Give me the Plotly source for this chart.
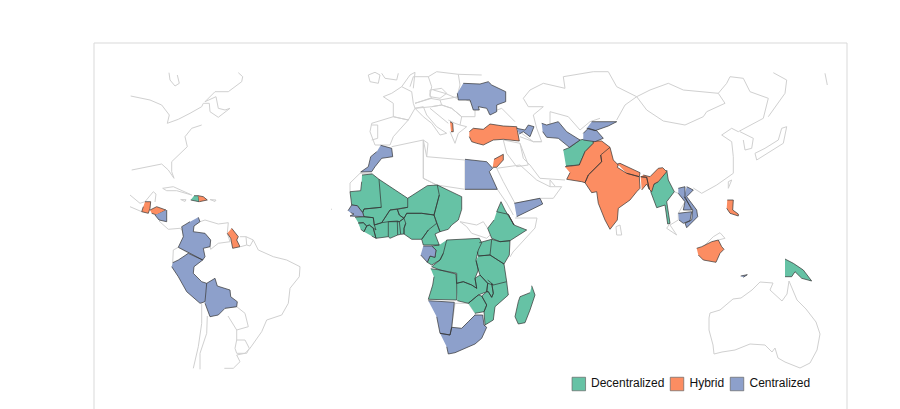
import plotly.graph_objects as go

morocco = [(380.7,145.3),(391.7,148.3),(392.7,156.7),(381.7,158.3),(375,166.7),(371.7,171.7),(360.7,172),(368.3,166.7),(370.7,156.7),(376.7,151.7)]
mauritania = [(362,175),(372.3,174),(379,179.3),(381.3,207.3),(364,209),(362.7,212.7),(357.3,205.7),(351.7,205),(350,191.7),(360.7,190.7),(361.7,181.7)]
mali = [(379,179.3),(407.7,198.3),(407.7,207.3),(397.3,209.3),(390,210),(381.7,222.7),(374.3,225),(373.3,217.7),(364,216.7),(362.7,212.7),(364,209),(381.3,207.3)]
niger = [(407.7,198.3),(427.3,185.7),(437.3,185),(439.3,195),(434,215),(421.7,213.3),(406.7,213.3),(404,218.3),(399.3,215),(397.3,209.3),(407.7,207.3)]
chad = [(437.3,185),(461.7,196.7),(461.7,209.3),(458.3,220),(451.7,225),(448.3,229.3),(440,231.7),(436.7,223.3),(434,215),(439.3,195)]
burkina = [(381.7,222.7),(390,210),(397.3,209.3),(399.3,215),(404,218.3),(399.3,221.7),(388.3,221.7)]
nigeria = [(404,218.3),(406.7,213.3),(421.7,213.3),(434,215),(436.7,223.3),(428.3,230),(421.7,239.3),(411.7,239.3),(404,234),(404,228.3),(405.7,223.3)]
benin = [(399.3,221.7),(404,218.3),(405.7,223.3),(404,228.3),(404,234),(400.7,234.3)]
togo = [(397.3,221),(399.3,221.7),(400.7,234.3),(397.7,235)]
ghana = [(388.3,221.7),(397.3,221),(397.7,235),(390,238.3),(388.3,236.7)]
ivory_coast = [(374.3,225),(381.7,222.7),(388.3,221.7),(388.3,236.7),(376,238.3),(373.3,228.3)]
guinea = [(355,217.3),(364,216.7),(373.3,217.7),(374.3,225),(376,230),(373.3,228.3),(369.3,225),(366.7,226),(363.3,222.7),(358.3,222.7)]
sierra_leone = [(358.3,223.3),(363.3,222.7),(366.7,226),(364,231.7),(360.7,229.3)]
liberia = [(364,231.7),(366.7,226),(369.3,225),(373.3,228.3),(376,238.3),(371.7,236)]
cameroon = [(436.7,223.3),(440,231.7),(435,234),(439.3,245),(423.3,245),(421.7,239.3),(428.3,230)]
gabon = [(423.3,246),(431.7,246),(436,250),(435,257.3),(430,256),(427.3,262.3),(420.7,255)]
congo = [(446.7,240),(443.3,253.3),(440,260),(431.7,265),(427.3,262.3),(430,256),(435,257.3),(436,250),(431.7,246),(439.3,245)]
drc = [(446.7,240),(463.3,239.3),(479.3,238.3),(481.7,242.7),(478.3,250),(476,260),(478.3,270),(475,278.3),(476.7,288.3),(471.7,285),(463.3,281.7),(456.7,283.3),(456.7,273.3),(440,270),(431.7,266.7),(440,260),(443.3,253.3)]
ethiopia = [(496.7,211.7),(508.3,214.3),(514,225),(526.7,230),(510,240.7),(500,241.7),(491.7,238.3),(487.7,228.3),(494,220)]
eritrea = [(496.7,211.7),(501,201.7),(505,210),(514,225),(508.3,214.3)]
kenya = [(491.7,239.3),(500,241.7),(510,240.7),(509.3,255),(504,264),(490,255)]
uganda = [(479.3,242.7),(491.7,239.3),(490,255),(478.3,256),(477.3,251.7)]
tanzania = [(478.3,256),(490,255),(504,264),(506.7,281.7),(493.3,285),(487.7,283.3),(480,275),(478.3,270),(476,260.7)]
zambia = [(456.7,283.3),(463.3,281.7),(471.7,285),(476.7,288.3),(475,278.3),(480,275),(487.7,283.3),(486.7,291.7),(478.3,295),(468.3,303.3),(457.3,300.7)]
malawi = [(487.7,280),(491.7,283.3),(493.3,293.3),(491.7,297.3),(488.3,291.7),(486.7,291.7),(487.7,283.3)]
mozambique = [(506.7,281.7),(508.3,295),(495,306.7),(493.3,320),(485,325),(484,311.7),(486.7,305),(481.7,296),(486.7,291.7),(488.3,291.7),(491.7,297.3),(493.3,293.3),(491.7,283.3),(493.3,285)]
zimbabwe = [(468.3,303.3),(478.3,295),(481.7,296),(486.7,305),(484,311.7),(475,313.3)]
angola = [(430.7,268.7),(440,270),(456,274),(456.7,285),(456.7,300),(428.3,299.3),(432.7,285),(434,276.7)]
madagascar = [(531.7,285.7),(535,295),(530,310),(525,322.7),(518.3,324),(515,316.7),(518.3,301.7),(520,296.7),(530,292.7)]
senegal = [(348,210.7),(351.7,205),(357.3,205.7),(362.7,212.7),(364,216.7),(360,216.7),(355,216.7),(350,216),(354,214),(350.7,212.7)]
swaziland = [(481.7,326),(484,325),(485.7,327.3),(483.3,330),(481,328.7)]
south_africa = [(440,333.3),(450,335),(451.7,327.3),(461.7,328.3),(468.3,321.7),(475,315),(482.7,315),(484,325),(486.7,327.3),(481.7,338.3),(475,344),(465,348.3),(455,352.7),(448.3,354),(446.7,346.7)]
namibia = [(428.3,300.7),(454.3,302.3),(451.7,327.3),(450,335),(440,333.3),(436.7,316.7)]
egypt = [(465,159.3),(486.7,161.7),(492.7,168.3),(489.3,171.7),(497.3,189.3),(465,189.3)]
jordan = [(494,159.3),(503.3,154.3),(503.3,160),(496.7,167.3),(492.7,167.3)]
yemen = [(514.3,203.3),(540,198.3),(542.7,204),(516.7,216.7)]
ukraine = [(463.3,83.3),(480,84),(488.3,81.7),(491.7,85),(505.7,91.7),(505.7,101.7),(496.7,105),(496.7,111.7),(490,115),(486.7,108.3),(478.3,106.7),(479.3,110),(473.3,110),(470,100),(458.3,100),(457.3,93.3)]
turkey = [(469.3,131.7),(473.3,128.3),(483.3,129.3),(490,124),(503.3,126),(516.7,126.7),(519.3,141),(503.3,139.3),(493.3,140),(483.3,145),(476.7,143.3),(471.7,141.7),(469.3,136.7)]
albania = [(450,121.7),(452.7,123.3),(453.3,131.7),(451,131.7)]
azerbaijan = [(516.7,128.3),(525,130),(528.3,125),(534,126.7),(530,136.7),(523.3,131.7),(519.3,134)]
turkmenistan = [(541.7,123.3),(546.7,125),(558.3,121.7),(566.7,131.7),(580,140),(569.3,147.3),(558.3,138.3),(546.7,137.3),(542.7,131.7)]
kyrgyzstan = [(591.7,121.7),(616.7,121.7),(608.3,126),(595,130.7),(586.7,128.3)]
tajikistan = [(583.3,133.3),(588.3,128.3),(596.7,130.7),(603.3,138.3),(595,141.7),(583.3,140)]
afghanistan = [(563.3,150),(570,147.3),(580,140),(593.3,137.3),(593.3,143.3),(585,151.7),(579.3,165),(566,166)]
pakistan = [(565,166.7),(579.3,165),(585,151.7),(593.3,143.3),(593.3,141),(601.7,141),(610,147.3),(600.7,155),(601.7,161.7),(588.3,175),(585,182.7),(581.7,181.7),(566.7,179.3),(570,172.7)]
india = [(610,147.3),(611.7,155),(613.3,160),(618.3,165),(617.3,167.3),(626.7,173.3),(639.3,176.7),(640,188.3),(636.7,191.7),(630,200),(618.3,208.3),(617.3,220),(610,229.3),(605,220),(598.3,203.3),(596.7,191.7),(591.7,192.7),(585,182.7),(588.3,175),(601.7,161.7),(600.7,155)]
india_east = [(643.3,175),(650,176.7),(658.3,168.3),(662.7,167.7),(666.7,171.7),(658.3,181.7),(654,184),(651.7,191.7),(649.3,189.3),(646.7,177.3),(640.7,176.7)]
nepal = [(617.3,164),(620,163.3),(640,172.7),(639.3,176.7),(626.7,173.3)]
bangladesh = [(640.7,176.7),(646.7,177.3),(649.3,189.3),(646.7,184),(641.7,190)]
myanmar = [(666.7,170),(668.3,180),(674.3,191.7),(666.7,201.7),(670,223.3),(667.7,224),(665,205),(656.7,207.7),(650.7,191.7),(654,184),(658.3,181.7)]
vietnam = [(686.7,186.7),(693.3,190),(686.7,196.7),(696.7,210),(697.7,216.7),(686.7,227.7),(685,223.3),(691.7,220),(692.7,210),(684,196.7)]
laos = [(678.3,188.3),(685,186.7),(685,196.7),(691.7,210),(683.3,210),(685,201.7),(678.3,193.3)]
cambodia = [(678.3,213.3),(691.7,211.7),(690,220.7),(683.3,223.3),(679,220)]
philippines = [(727.3,200),(733.3,200),(732.7,210),(738.3,214),(738.3,216),(730,213.3),(726.7,208.3)]
kalimantan = [(696.7,248.3),(701.7,246.7),(711.7,241.7),(718.3,240),(721.7,246.7),(724,249.3),(720,253.3),(716,262.3),(703.3,260),(698.3,255)]
timor = [(740.7,276),(747.3,274.7),(743.3,277.3)]
png = [(785,259),(793.3,263.3),(803.3,270),(811.7,281),(801.7,278.3),(795,271.7),(791.7,276.7),(785,276.7)]
guatemala = [(145,201.7),(150.7,201.7),(150,208.3),(148.3,213.3),(141.7,211.7),(143.3,206.7)]
honduras = [(150,210),(156.7,206.7),(166,210),(156.7,215),(151.7,213.3)]
nicaragua = [(166.7,210),(166.7,221.7),(159,220),(155,215)]
haiti = [(194,195.7),(198.3,195.7),(199,201.7),(190.7,200)]
dominican = [(198.3,195.7),(203.3,196.7),(207.3,200),(199.3,201.7)]
guyana = [(231.7,228.3),(238.3,236.7),(236.7,240),(240,246.7),(232.7,248.3),(230.7,238.3),(227.3,233.3)]
colombia = [(198.3,217.3),(200,221.7),(194,226),(193.3,231.7),(205,233.3),(210.7,240),(210,246.7),(203.3,248.3),(205,256.7),(202.7,260),(190,253.3),(178.3,247.3),(183.3,236.7),(181.7,226.7),(190,221.7)]
peru = [(172.7,262.7),(178.3,260),(188.3,253.3),(202.7,260),(194,266.7),(193.3,273.3),(201.7,281.7),(206.7,283.3),(205,301.7),(200,303.3),(186.7,291.7),(178.3,276.7),(171.7,266.7)]
bolivia = [(206.7,283.3),(215,278.3),(217.3,286),(230,290),(230.7,296.7),(237.3,301.7),(236.7,306.7),(225,308.3),(218.3,315),(210,316.7),(205,303.3)]

# Gray base map lines
canada_bay = [(169,72.7),(170,80),(175,86),(179.3,83.3),(177.3,75)]
canada_us = [(130.7,96),(150,100),(161.7,105),(169.3,115),(167.3,123.3),(178.3,119.3),(190,113.3),(201.7,106.7),(203.3,103.3),(209.3,103.3),(210,111.7),(218.3,117.3),(230,108.3),(225,110),(218.3,108.3),(216,96.7),(205,101.7),(215,91.7),(228.3,91.7),(241.7,81.7),(242.7,76.7),(238.3,72.7)]
us_coast = [(201.7,125),(191.7,128.3),(185,136.7),(187.3,146.7),(171.7,161.7),(171.7,171.7),(174,178.3),(168.3,170),(161.7,164),(148.3,166.7),(131.7,170)]
mexico_gulf = [(130,195),(140,203.3),(145,201.7),(153.3,191.7),(156,194),(155,202)]
mexico_pacific = [(130,206.7),(141.7,211.7)]
panama = [(159,221),(168.3,229.3),(180,228.3),(186,234)]
cuba = [(162.7,188.3),(173.3,186.7),(191.7,195),(176.7,190.7),(166.7,190.7),(162.7,188.3)]
jamaica = [(180.7,199.5),(186,199.7),(185,201.5),(180.7,199.5)]
puerto_rico = [(210,199.5),(216,200),(215,201.5),(210,199.5)]
venezuela = [(200,221.7),(205,220),(218.3,224),(228.3,222.7),(227.3,233.3),(230,241.7),(218.3,243.3),(210.7,249.3),(209,240)]
suriname = [(240,236.7),(246,236.7),(246.7,245),(240.7,246.7)]
guiana = [(246,236.7),(253.3,240),(250,246),(246.7,245)]
brazil_coast = [(253.3,240),(258.3,250),(273.3,256.7),(286.7,260),(300,266.7),(299.3,276.7),(290,288.3),(288.3,303.3),(281.7,315),(266.7,320),(261.7,331.7),(250,348.3),(245,353.3),(236.7,355),(240,361.7),(233.3,368.3),(224.3,368.3)]
uruguay = [(236.7,340),(245,340),(249.3,348.3),(246.7,353.3),(236.7,353.3),(235,348.3),(236.7,340)]
paraguay = [(225,308.3),(236.7,306.7),(245,313.3),(248.3,326.7),(236.7,330),(228,316)]
argentina_east = [(236.7,330),(236.7,340)]
chile_coast = [(201.7,303.3),(201.7,323.3),(198.3,346.7),(193.3,368.3)]
chile_border = [(207.3,316),(206.7,333.3),(200,353.3),(200,369.3)]
ecuador = [(173.3,250),(178.3,247.3),(188.3,253.3),(179.3,262.7),(172.7,262.7),(173.3,250)]

britain = [(368.3,75),(375,72.3),(380,75),(378.3,83.3),(370,81.7),(368.3,75)]
north_sea = [(381.7,73.3),(385,78.3),(396.7,80),(398.3,73.3)]
france = [(383.3,96.7),(391.7,93.3),(401.7,86.7),(411.7,91.7),(413.3,103.3),(415,108.3),(408.3,120),(393.3,116.7),(393.3,103.3),(383.3,96.7)]
lowlands = [(401.7,86.7),(410,75),(415,72.3),(413.3,88.3)]
germany = [(410,86.7),(413.3,76.7),(428.3,76.7),(431.7,86.7),(430,95),(431.7,98.3),(415,103.3)]
poland = [(428.3,76.7),(436.7,71.7),(458.3,74.3),(460,85),(456.7,98.3),(445,93.3),(433.3,90)]
belarus = [(458.3,74.3),(481.7,75)]
czechia = [(430,90),(441.7,88.3),(446.7,93.3),(440,98.3),(430,96.7),(430,90)]
austria = [(415,103.3),(430,98.3),(440,100),(441.7,105),(431.7,106.7),(415,108.3)]
romania = [(440,100),(458.3,96.7),(475,103.3),(475,116.7),(461.7,116.7),(451.7,108.3),(441.7,105)]
italy = [(415,108.3),(423.3,106.7),(426.7,115),(436.7,126.7),(446.7,133.3),(440,135),(431.7,123.3),(423.3,116.7),(415,108.3)]
adriatic = [(430,108.3),(448.3,123.3)]
balkans = [(431.7,106.7),(441.7,105),(451.7,108.3),(461.7,116.7),(460,125),(455,123.3),(448.3,120)]
greece = [(450,131.7),(455,143.3),(458.3,133.3),(466.7,126.7),(460,125)]
spain = [(371.7,123.3),(393.3,116.7),(408.3,120),(393.3,136.7),(390,145),(375,145),(370,131.7),(371.7,123.3)]
portugal = [(371.7,125),(377.7,125),(377.7,138.3),(371.7,140)]
black_sea = [(488.3,113.3),(501.7,108.3),(515,121.7)]
russia_south = [(523.3,98.3),(530,90),(543.3,83.3),(565,88.3),(563.3,76.7),(593.3,71.7),(608.3,71.7),(616.7,86.7),(636.7,96.7)]
caspian = [(523.3,98.3),(528.3,106.7),(543.3,106.7),(533.3,115),(536.7,128.3),(541.7,141.7),(533.3,141.7),(521.7,133.3)]
kazakh_south = [(550,125),(550,111.7),(568.3,116.7),(580,130),(590,121.7),(600,118.3)]
china_west = [(616.7,120),(625,105),(636.7,96.7)]
china_mongolia = [(636.7,96.7),(646.7,110),(663.3,121),(685,125),(703.3,116.7),(706.7,111.7),(725,103.3),(718.3,93.3),(683.3,90),(668.3,83.3),(650,90),(636.7,96.7)]
russia_china = [(718.3,93.3),(726.7,83.3),(730,76.7),(743.3,78.3),(750,91.7),(768.3,98.3),(763.3,118.3),(756.7,121.7),(738.3,131.7),(731.7,128.3),(721.7,135),(731.7,141.7),(733.3,156.7),(733.3,173.3),(716.7,185),(701.7,193.3),(693.3,188)]
korea = [(740,131.7),(753.3,138.3),(751.7,148.3),(745,150),(743.3,140)]
japan = [(755,153.3),(756.7,160),(783.3,143.3),(786.7,126.7),(781.7,128.3),(778.3,140),(765,148.3),(755,153.3)]
kamchatka = [(773.3,72.7),(786.7,80),(785,93.3),(768.3,116.7)]
sakhalin = [(825,73.3),(827.3,85)]
taiwan = [(728.3,188.3),(731.7,180),(728.3,181.7),(728.3,188.3)]
sri_lanka = [(616,226.7),(620,225),(621.7,235),(616.7,235),(616,226.7)]
thailand = [(674.3,191.7),(678.3,193.3),(685,201.7),(678.3,213.3),(678.3,220),(670,225),(676.7,235),(666.7,228.3),(670,223.3)]
borneo_north = [(703.3,246.7),(713.3,236.7),(720,232.7),(725,238.3),(718.3,240)]
australia = [(709,318),(710,313),(720,310),(733,299),(741,298),(752,290),(760,282),(773,283),(770,290),(782,301),(787,294),(789,281),(797,300),(806,309),(816,322),(820,334),(817,350),(810,363),(800,368),(792,365),(785,362),(778,358),(775,348),(772,352),(765,345),(750,344),(735,350),(722,352),(714,354),(713,345),(709,330),(709,318)]

iran = [(520,143.3),(523.3,158.3),(530,165),(540,178.3),(565,180)]
iran_north = [(520,136.7),(533.3,141.7),(541.7,141.7)]
iraq = [(503.3,140),(520,143.3),(528.3,165),(516.7,166.7),(506.7,153.3),(503.3,140)]
saudi = [(496.7,168.3),(520,165),(536.7,180),(550,186.7),(561.7,186.7),(553.3,198.3),(540,198.3),(515,203.3),(503.3,181.7),(496.7,168.3)]
gulf = [(550,186.7),(550,180),(555,186)]
libya = [(423.3,140),(426.7,156.7),(465,160),(465,189.3),(436.7,185),(423.3,178.3),(423.3,140)]
algeria = [(391.7,146.7),(423.3,140),(423.3,178.3),(436.7,185),(407.7,198.3)]
tunisia = [(423.3,140),(428,143.3),(426.7,156.7)]
western_sahara = [(350,191.7),(350,183),(360,173.3),(372,173.3)]
sudan = [(465,189.3),(497.3,189.3),(506.7,203),(513.3,215)]
south_sudan = [(460,221.7),(476.7,225),(483.3,221.7),(487.7,228.3)]
sudan_south = [(460,221.7),(466.7,226.7),(471.7,233.3),(486.7,238.3),(491.7,233.3)]
somalia = [(515,218),(537,218),(535,228),(513,252),(510,257)]
botswana = [(451.7,327.3),(455,303.3),(468.3,303.3),(475,313.3),(475,315),(461.7,328.3)]
cape_verde = [(331,209),(332,209.5)]

decentralized = [mauritania, mali, niger, chad, burkina, nigeria, benin, togo, ghana, ivory_coast, guinea, sierra_leone, liberia, cameroon, congo, drc, ethiopia, eritrea, kenya, uganda, tanzania, zambia, malawi, mozambique, zimbabwe, angola, madagascar, swaziland, afghanistan, myanmar, png, haiti]
hybrid = [pakistan, india, india_east, nepal, bangladesh, turkey, albania, jordan, philippines, kalimantan, guatemala, honduras, dominican, guyana]
centralized = [morocco, senegal, gabon, south_africa, namibia, egypt, yemen, ukraine, azerbaijan, turkmenistan, kyrgyzstan, tajikistan, vietnam, laos, cambodia, timor, nicaragua, colombia, peru, bolivia]
base_lines = [canada_bay, canada_us, us_coast, mexico_gulf, mexico_pacific, panama, cuba, jamaica, puerto_rico, venezuela, suriname, guiana, brazil_coast, uruguay, paraguay, argentina_east, chile_coast, chile_border, ecuador,
              britain, north_sea, france, lowlands, germany, poland, belarus, czechia, austria, romania, italy, adriatic, balkans, greece, spain, portugal, black_sea, russia_south, caspian, kazakh_south, china_west, china_mongolia, russia_china, korea, japan, kamchatka, sakhalin, taiwan, sri_lanka, thailand, borneo_north, australia,
              iran, iran_north, iraq, saudi, gulf, libya, algeria, tunisia, western_sahara, sudan, south_sudan, sudan_south, somalia, botswana, cape_verde]

legend_names = ["Decentralized", "Hybrid", "Centralized"]
legend_colors = ["#66c2a5", "#fc8d62", "#8da0cb"]
legend_x = [578.8, 677, 737]
legend_label_x = [591, 689.5, 749.5]
legend_y = [384, 384, 384]


def join_shapes(shapes):
    xs, ys = [], []
    for shape in shapes:
        xs += [p[0] for p in shape] + [None]
        ys += [p[1] for p in shape] + [None]
    return xs, ys


fig = go.Figure()

x, y = join_shapes(base_lines)
fig.add_trace(go.Scatter(x=x, y=y, mode="lines", line=dict(color="#d0d0d0", width=1), hoverinfo="skip"))

for name, shapes, color in zip(legend_names, [decentralized, hybrid, centralized], legend_colors):
    x, y = join_shapes(shapes)
    fig.add_trace(go.Scatter(
        x=x, y=y, mode="lines", name=name, fill="toself", fillcolor=color,
        line=dict(color="#333333", width=0.7)
    ))

# legend keys drawn as squares with the labels next to them
fig.add_trace(go.Scatter(
    x=legend_x, y=legend_y, mode="markers",
    marker=dict(symbol="square", size=13.5, color=legend_colors, line=dict(color="#666666", width=0.7))
))
fig.add_trace(go.Scatter(
    x=legend_label_x, y=legend_y, mode="text", text=legend_names, textposition="middle right",
    textfont=dict(family="Liberation Sans", size=12, color="#111111")
))

fig.add_shape(type="rect", x0=94, x1=847, y0=43, y1=440, line=dict(color="#d9d9d9", width=1))

# the page body sits 8px in from the window, so the axes start at 8
fig.update_xaxes(range=[8, 908], visible=False)
fig.update_yaxes(range=[417, 8], visible=False)
fig.update_layout(
    width=900, height=409, margin=dict(l=0, r=0, t=0, b=0),
    plot_bgcolor="white", paper_bgcolor="white", showlegend=False
)
fig.write_html("out.html")
